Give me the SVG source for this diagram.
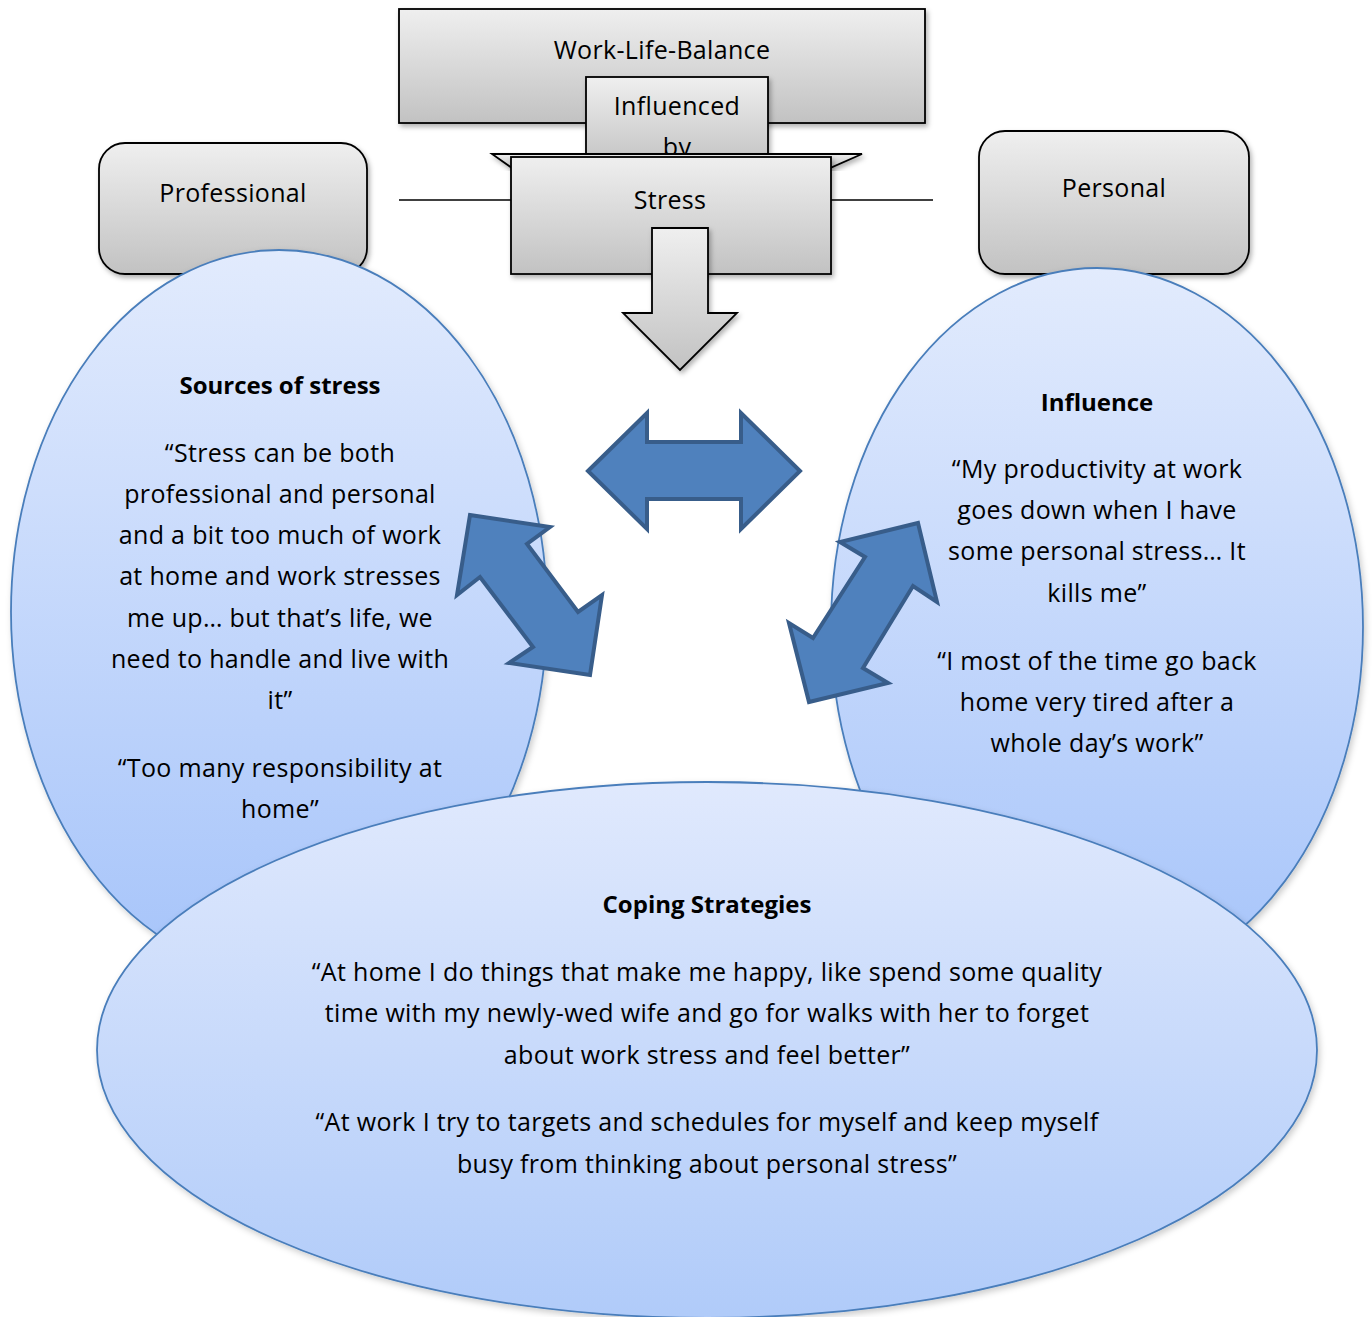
<svg xmlns="http://www.w3.org/2000/svg" width="1372" height="1317" viewBox="0 0 1372 1317">
  <defs>
    <linearGradient id="gray" x1="0" y1="0" x2="0" y2="1">
      <stop offset="0" stop-color="#efefef"/>
      <stop offset="1" stop-color="#c2c2c2"/>
    </linearGradient>
    <linearGradient id="blue" x1="0" y1="0" x2="0" y2="1">
      <stop offset="0" stop-color="#e2ebfd"/>
      <stop offset="1" stop-color="#a6c4fa"/>
    </linearGradient>
    <linearGradient id="blueLow" x1="0" y1="0" x2="0" y2="1">
      <stop offset="0" stop-color="#e0e9fd"/>
      <stop offset="1" stop-color="#b0cbf9"/>
    </linearGradient>
    <filter id="shadow" x="-10%" y="-10%" width="125%" height="125%">
      <feDropShadow dx="2" dy="3" stdDeviation="2.5" flood-color="#000" flood-opacity="0.3"/>
    </filter>
    <filter id="softShadow" x="-10%" y="-10%" width="125%" height="125%">
      <feDropShadow dx="2" dy="3" stdDeviation="3" flood-color="#000" flood-opacity="0.2"/>
    </filter>
  </defs>
  <style>
    .box { fill: url(#gray); stroke: #000; stroke-width: 1.8; filter: url(#shadow); }
    .bubble { stroke: #4a7ebb; stroke-width: 1.8; filter: url(#softShadow); }
    .dbl { fill: #4f81bd; stroke: #385d8a; stroke-width: 4; stroke-linejoin: miter; }
    .line { stroke: #000; stroke-width: 1.5; fill: none; }
    text { font-family: "Open Sans", "Noto Sans", "DejaVu Sans", sans-serif; font-size: 25px; letter-spacing: 0.33px; fill: #000; text-anchor: middle; }
    .b { font-weight: bold; font-size: 24px; letter-spacing: 0; }
  </style>
  <rect width="1372" height="1317" fill="#fff"/>

  <!-- side lines running behind the Stress box -->
  <g id="connectors">
    <line class="line" x1="399" y1="200" x2="512" y2="200"/>
    <line class="line" x1="831" y1="200" x2="933" y2="200"/>
  </g>

  <g id="work-life-balance">
    <rect class="box" x="399" y="9" width="526" height="114"/>
    <text x="662" y="59">Work-Life-Balance</text>
  </g>

  <g id="influenced-by">
    <rect class="box" x="586" y="77" width="182" height="90"/>
    <text x="677" y="115">Influenced</text>
    <text x="677" y="156">by</text>
    <polygon class="box" points="492,154 862,154 830,168 512,168"/>
  </g>

  <g id="stress">
    <rect class="box" x="511" y="157" width="320" height="117"/>
    <text x="670" y="209">Stress</text>
    <polygon class="box" points="652,228 708,228 708,313 737,313 680,370 623,313 652,313"/>
  </g>

  <g id="professional">
    <rect class="box" x="99" y="143" width="268" height="131" rx="26"/>
    <text x="233" y="202">Professional</text>
  </g>

  <g id="personal">
    <rect class="box" x="979" y="131" width="270" height="143" rx="26"/>
    <text x="1114" y="197">Personal</text>
  </g>

  <g id="sources-of-stress">
    <ellipse class="bubble" fill="url(#blue)" cx="279" cy="612" rx="268" ry="362"/>
    <text class="b" x="280" y="394">Sources of stress</text>
    <text x="280" y="462">“Stress can be both</text>
    <text x="280" y="503">professional and personal</text>
    <text x="280" y="544">and a bit too much of work</text>
    <text x="280" y="585">at home and work stresses</text>
    <text x="280" y="627">me up… but that’s life, we</text>
    <text x="280" y="668">need to handle and live with</text>
    <text x="280" y="709">it”</text>
    <text x="280" y="777">“Too many responsibility at</text>
    <text x="280" y="818">home”</text>
  </g>

  <g id="influence">
    <ellipse class="bubble" fill="url(#blue)" cx="1097" cy="627" rx="266" ry="359"/>
    <text class="b" x="1097" y="411">Influence</text>
    <text x="1097" y="478">“My productivity at work</text>
    <text x="1097" y="519">goes down when I have</text>
    <text x="1097" y="560">some personal stress… It</text>
    <text x="1097" y="602">kills me”</text>
    <text x="1097" y="670">“I most of the time go back</text>
    <text x="1097" y="711">home very tired after a</text>
    <text x="1097" y="752">whole day’s work”</text>
  </g>

  <g id="coping-strategies">
    <ellipse class="bubble" fill="url(#blueLow)" cx="707" cy="1050" rx="610" ry="268"/>
    <text class="b" x="707" y="913">Coping Strategies</text>
    <text x="707" y="981">“At home I do things that make me happy, like spend some quality</text>
    <text x="707" y="1022">time with my newly-wed wife and go for walks with her to forget</text>
    <text x="707" y="1064">about work stress and feel better”</text>
    <text x="707" y="1131">“At work I try to targets and schedules for myself and keep myself</text>
    <text x="707" y="1173">busy from thinking about personal stress”</text>
  </g>

  <!-- blue two-way arrows -->
  <g id="arrows">
    <polygon class="dbl" points="588,471 647,413 647,442 741,442 741,413 800,471 741,529 741,499 647,499 647,529"/>
    <polygon class="dbl" points="470,515 550,527 527,544 578,612 602,595 590,675 509,663 533,647 480,577 457,595"/>
    <polygon class="dbl" points="918,523 937,602 913,586 863,668 888,683 809,702 789,623 813,638 865,557 840,542"/>
  </g>
</svg>
